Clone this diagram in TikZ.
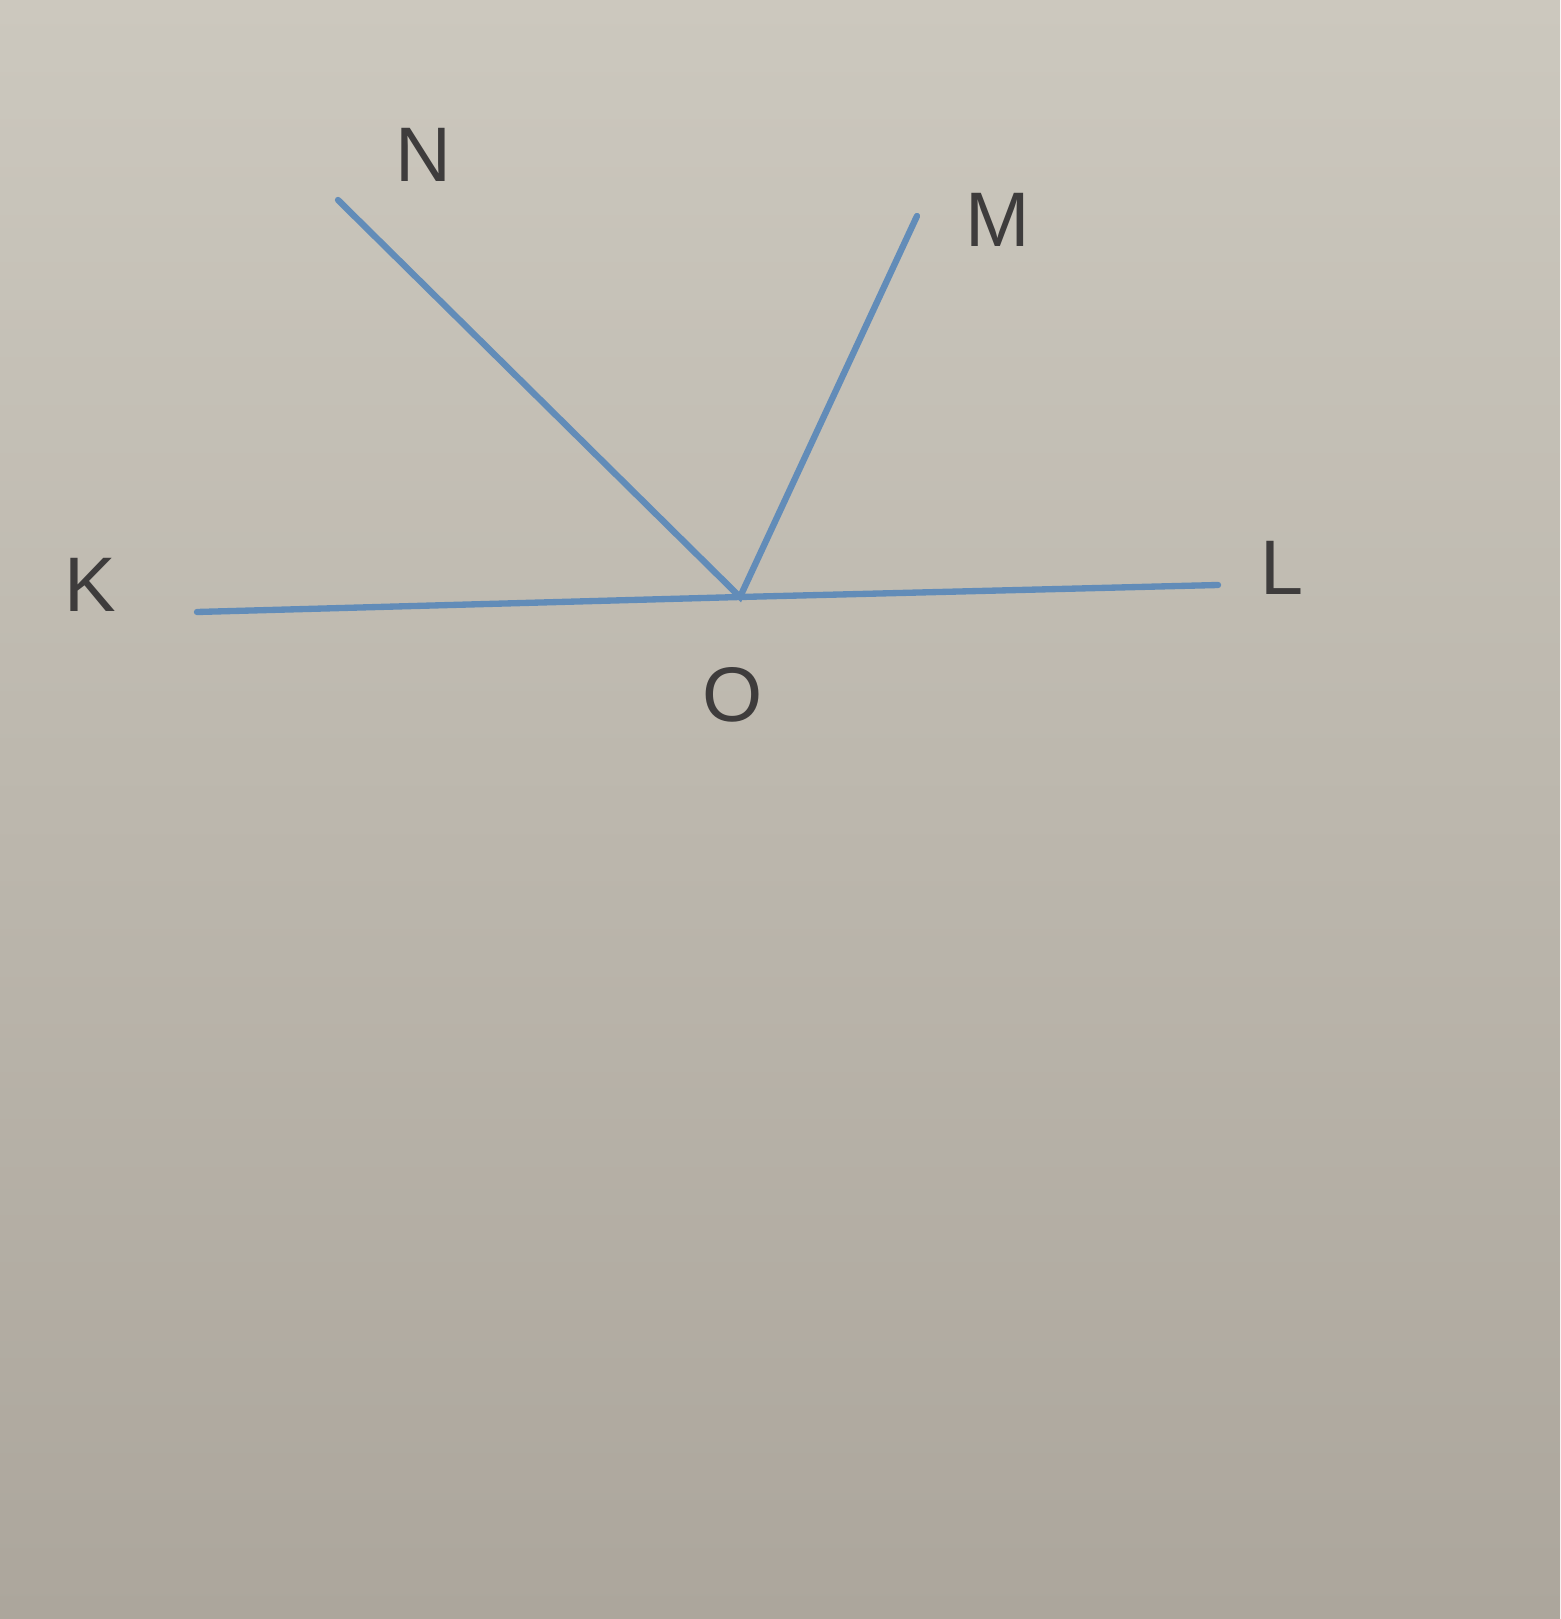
\documentclass[tikz,border=0pt]{standalone}
\usepackage{fontspec}
\setmainfont{Liberation Sans}
\definecolor{bgtop}{RGB}{204,200,190}
\definecolor{bgbot}{RGB}{172,166,156}
\definecolor{ray}{RGB}{98,140,184}
\definecolor{lbl}{RGB}{62,60,60}
\tikzset{
  rayline/.style={draw=ray, line width=1.8pt, line cap=round},
  ptlabel/.style={text=lbl, font=\fontsize{22}{26}\selectfont, inner sep=0pt}
}
\begin{document}
\begin{tikzpicture}[x=0.01cm,y=-0.01cm]
\shade[top color=bgtop, bottom color=bgbot] (0,0) rectangle (1560,1619);
\useasboundingbox (0,0) rectangle (1560,1619);
\coordinate (K) at (197,612);
\coordinate (O) at (740,597);
\coordinate (L) at (1218,585);
\coordinate (N) at (338,200);
\coordinate (M) at (917,216);
\draw[rayline] (K) -- (O) -- (L);
\draw[rayline] (N) -- (O) -- (M);
\node[ptlabel] (nK) at (90,585) {K};
\node[ptlabel] (nL) at (1282,568) {L};
\node[ptlabel] (nO) at (733,695) {O};
\node[ptlabel] (nN) at (423,155) {N};
\node[ptlabel] (nM) at (998,220) {M};
\end{tikzpicture}
\end{document}
